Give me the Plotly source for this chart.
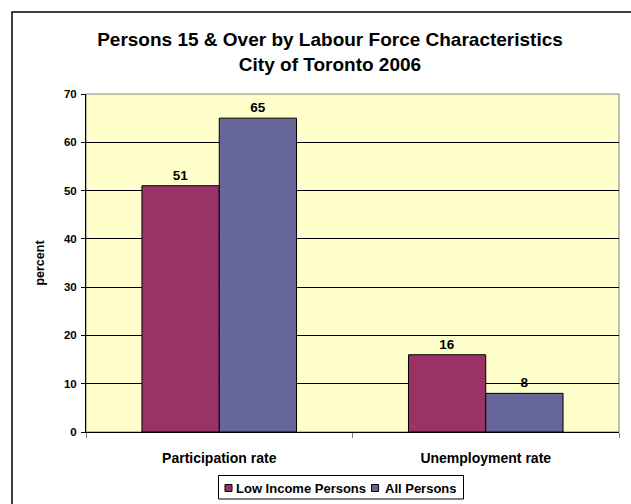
import plotly.graph_objects as go

categories = ["Participation rate", "Unemployment rate"]
low_income = [51, 16]
all_persons = [65, 8]
series_names = ["Low Income Persons", "All Persons"]
series_colors = ["#993366", "#666699"]
y_ticks = [0, 10, 20, 30, 40, 50, 60, 70]

FONT = "Liberation Sans, Arial, sans-serif"

# plot area in pixels: x 86..619, y 94..432
PX_L, PX_R, PX_T, PX_B = 86, 619, 94, 432


def px_x(px):
    return (px - PX_L) / (PX_R - PX_L)


def px_y(py):
    return (PX_B - py) / (PX_B - PX_T)


fig = go.Figure()
for name, vals, color in zip(series_names, [low_income, all_persons], series_colors):
    fig.add_trace(go.Bar(
        x=categories, y=vals, name=name, showlegend=False,
        marker=dict(color=color, line=dict(color="black", width=1)),
        texttemplate="%{y:.0f}", textposition="outside",
        textfont=dict(family=FONT, size=13.5, color="black", weight="bold"),
        cliponaxis=False,
    ))

# legend drawn as a boxed row of square keys and labels
legend_shapes = [
    dict(type="rect", xref="paper", yref="paper",
         x0=px_x(218.5), x1=px_x(463.5), y0=px_y(499), y1=px_y(475.5),
         line=dict(color="black", width=1), fillcolor="white"),
]
legend_annotations = []
key_lefts = [225, 371.5]
text_lefts = [234, 383]
for name, color, kx, tx in zip(series_names, series_colors, key_lefts, text_lefts):
    legend_shapes.append(dict(
        type="rect", xref="paper", yref="paper",
        x0=px_x(kx), x1=px_x(kx + 7), y0=px_y(491.5), y1=px_y(484.5),
        line=dict(color="black", width=1), fillcolor=color))
    legend_annotations.append(dict(
        text=name, xref="paper", yref="paper", x=px_x(tx), y=px_y(488),
        xanchor="left", yanchor="middle", showarrow=False,
        font=dict(family=FONT, size=13, color="black", weight="bold")))

fig.update_layout(
    width=631, height=504,
    margin=dict(l=PX_L, r=631 - PX_R, t=PX_T, b=504 - PX_B, autoexpand=False),
    paper_bgcolor="white",
    plot_bgcolor="#FFFFCC",
    barmode="group",
    bargap=0.42,
    bargroupgap=0,
    font=dict(family=FONT, color="black"),
    title=dict(
        text="Persons 15 & Over by Labour Force Characteristics<br>City of Toronto 2006",
        x=0.523, xanchor="center", y=0.909, yanchor="middle",
        font=dict(family=FONT, size=19, color="black", weight="bold"),
    ),
    showlegend=False,
    shapes=[
        # outer chart frame (extends past the right and bottom edges)
        dict(type="rect", xref="paper", yref="paper",
             x0=px_x(12), x1=1.2, y0=-0.5, y1=px_y(12),
             line=dict(color="black", width=1.5), layer="below"),
        # plot-area frame
        dict(type="rect", xref="paper", yref="paper",
             x0=0, x1=1, y0=0, y1=1,
             line=dict(color="#808080", width=1), layer="below"),
    ] + legend_shapes,
    annotations=legend_annotations,
)

fig.update_xaxes(
    tickson="boundaries", ticks="outside", ticklen=5, tickcolor="#808080",
    showline=True, linecolor="black", linewidth=1,
    tickfont=dict(family=FONT, size=14, color="black", weight="bold"),
    ticklabelstandoff=13,
    showgrid=False,
)
fig.update_yaxes(
    range=[0, 70], tickvals=y_ticks,
    ticks="outside", ticklen=4, tickcolor="black",
    showline=True, linecolor="black", linewidth=1,
    showgrid=True, gridcolor="black", gridwidth=1,
    tickfont=dict(family=FONT, size=11.5, color="black", weight="bold"),
    ticklabelstandoff=2,
    title=dict(text="percent", font=dict(family=FONT, size=12.5, color="black", weight="bold"), standoff=16),
    zeroline=False,
)

fig.write_html("out.html")
